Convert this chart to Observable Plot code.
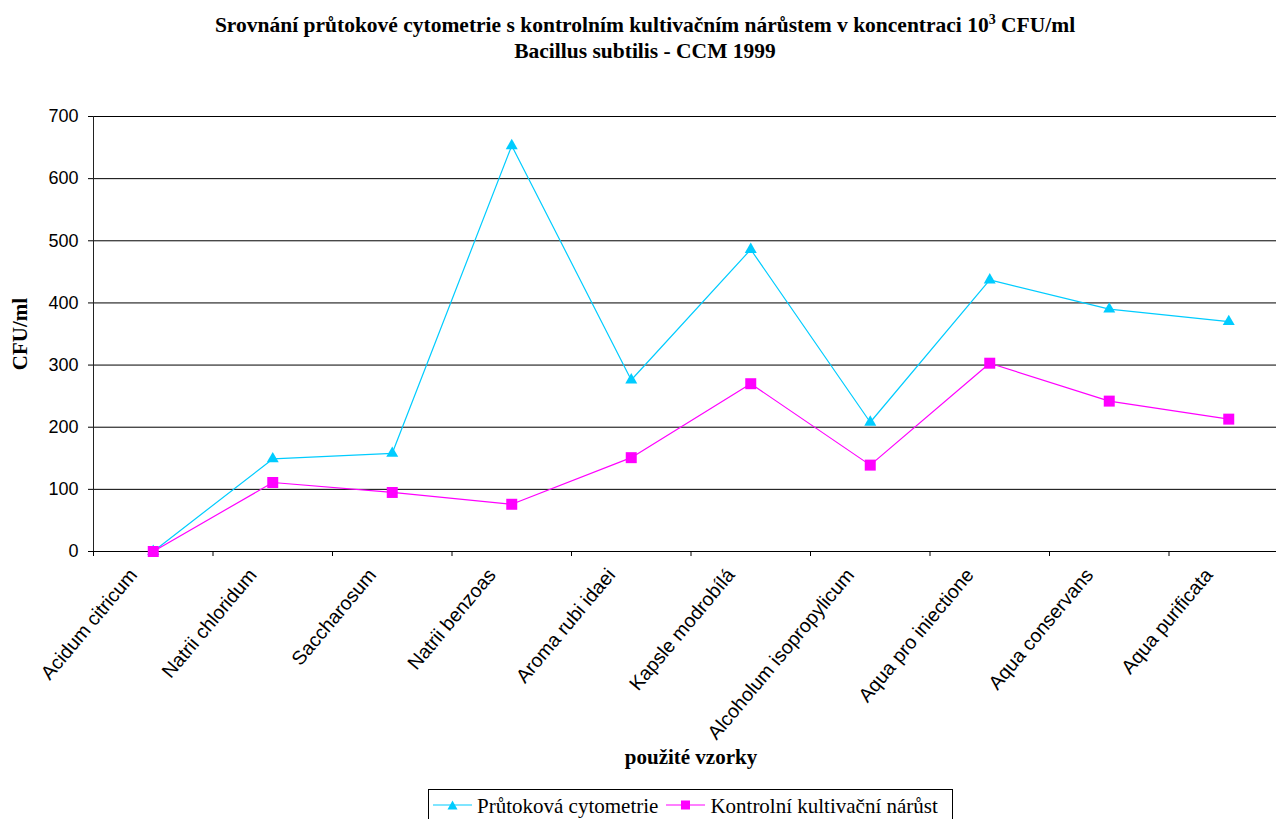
<!DOCTYPE html>
<html>
<head>
<meta charset="utf-8">
<script src="https://cdn.jsdelivr.net/npm/d3@7"></script>
<script src="https://cdn.jsdelivr.net/npm/@observablehq/plot@0.6"></script>
<style>
  html, body { margin: 0; padding: 0; background: #fff; }
  body { position: relative; width: 1276px; height: 819px; overflow: hidden; }
  #chart { position: absolute; left: 0; top: 0; width: 1300px; }
  #chart svg { max-width: none !important; }
  #title {
    position: absolute; left: 0; top: 13px; width: 1290px; text-align: center;
    font: bold 21.5px "Liberation Serif", "Times New Roman", serif; line-height: 25.5px; color: #000;
  }
  #title sup { font-size: 14px; line-height: 0; vertical-align: 8px; }
  #legend {
    position: absolute; left: 428px; top: 789px; width: 525px; height: 40px;
    box-sizing: border-box; border: 1px solid #000; background: #fff;
    padding-top: 4px; white-space: nowrap;
    font: 21px "Liberation Serif", "Times New Roman", serif; line-height: 24px; color: #000;
  }
  #legend svg { display: inline-block; vertical-align: top; }
  #legend .sw1 { margin-left: 4px; }
  #legend .sw2 { margin-left: 8px; }
  #legend .lbl { margin-left: 5px; }
</style>
</head>
<body>
<div id="chart"></div>
<div id="title">Srovnání průtokové cytometrie s kontrolním kultivačním nárůstem v koncentraci 10<sup>3</sup> CFU/ml<br>Bacillus subtilis - CCM 1999</div>
<div id="legend"></div>
<script>
// Samples tested
const categories = [
  "Acidum citricum",
  "Natrii chloridum",
  "Saccharosum",
  "Natrii benzoas",
  "Aroma rubi idaei",
  "Kapsle modrobílá",
  "Alcoholum isopropylicum",
  "Aqua pro iniectione",
  "Aqua conservans",
  "Aqua purificata"
];

// CFU/ml counted by flow cytometry
const flowCytometry = [0, 149, 158, 653, 276, 486, 208, 437, 390, 370];

// CFU/ml from the control cultivation
const controlGrowth = [0, 111, 95, 76, 151, 270, 139, 303, 242, 213];

// Value axis ticks
const yTicks = [0, 100, 200, 300, 400, 500, 600, 700];

const seriesNames = ["Průtoková cytometrie", "Kontrolní kultivační nárůst"];
const cyan = "#00CCFF";
const magenta = "#FF00FF";

const flowRows = categories.map((c, i) => ({i, category: c, value: flowCytometry[i]}));
const controlRows = categories.map((c, i) => ({i, category: c, value: controlGrowth[i]}));
// category band boundaries, where the x ticks sit
const boundaries = d3.range(categories.length + 1).map(k => k - 0.5);

const serif = "Liberation Serif, Times New Roman, serif";
const sans = "Liberation Sans, Arial, sans-serif";

const chart = Plot.plot({
  width: 1300,
  height: 819,
  marginLeft: 93,
  marginRight: 12,
  marginTop: 116,
  marginBottom: 268,
  style: {fontFamily: sans, fontSize: "18px", background: "transparent", color: "#000", overflow: "visible", maxWidth: "none"},
  x: {domain: [-0.5, categories.length - 0.5]},
  y: {domain: [0, 700]},
  marks: [
    // horizontal gridlines
    Plot.ruleY(yTicks.filter(v => v > 0), {stroke: "#000", strokeWidth: 1}),
    // axis lines
    Plot.ruleX([-0.5], {stroke: "#222"}),
    Plot.ruleY([0], {stroke: "#000"}),
    Plot.axisY({ticks: yTicks, tickSize: 5, tickPadding: 10, label: null, fontSize: 18, fontFamily: sans}),
    Plot.axisX({ticks: boundaries, tickSize: 5, tickFormat: () => "", label: null}),
    // rotated category labels
    Plot.text(categories, {
      x: (d, i) => i,
      frameAnchor: "bottom",
      lineAnchor: "bottom",
      text: d => d,
      rotate: -50,
      textAnchor: "end",
      dx: -15,
      dy: 24,
      fontSize: 19.5,
      fontFamily: sans,
      fill: "#000"
    }),
    // flow cytometry series
    Plot.line(flowRows, {x: "i", y: "value", stroke: cyan, strokeWidth: 1.2}),
    Plot.dot(flowRows, {x: "i", y: "value", symbol: "triangle", r: 4.45, fill: cyan, stroke: "none"}),
    // control cultivation series
    Plot.line(controlRows, {x: "i", y: "value", stroke: magenta, strokeWidth: 1.2}),
    Plot.dot(controlRows, {x: "i", y: "value", symbol: "square", r: 6.2, fill: magenta, stroke: "none"}),
    // axis titles
    Plot.text(["použité vzorky"], {frameAnchor: "bottom", lineAnchor: "middle", textAnchor: "middle", dy: 206, fontSize: 21, fontWeight: "bold", fontFamily: serif, fill: "#000"}),
    Plot.text(["CFU/ml"], {frameAnchor: "left", lineAnchor: "middle", textAnchor: "middle", rotate: -90, dx: -73, fontSize: 21, fontWeight: "bold", fontFamily: serif, fill: "#000"})
  ]
});
document.getElementById("chart").appendChild(chart);

// Legend: line swatch with marker, then series name
const legend = document.getElementById("legend");
const swatch = (cls, color, shape) => {
  const s = `<svg class="${cls}" width="39" height="24" viewBox="0 0 39 24">` +
    `<line x1="0" y1="11" x2="39" y2="11" stroke="${color}" stroke-width="1.2"/>` +
    (shape === "triangle"
      ? `<polygon points="19.5,6.5 14.5,15.5 24.5,15.5" fill="${color}"/>`
      : `<rect x="15" y="6.5" width="9" height="9" fill="${color}"/>`) +
    `</svg>`;
  return s;
};
legend.innerHTML =
  swatch("sw1", cyan, "triangle") + `<span class="lbl">${seriesNames[0]}</span>` +
  swatch("sw2", magenta, "square") + `<span class="lbl">${seriesNames[1]}</span>`;
</script>
</body>
</html>
